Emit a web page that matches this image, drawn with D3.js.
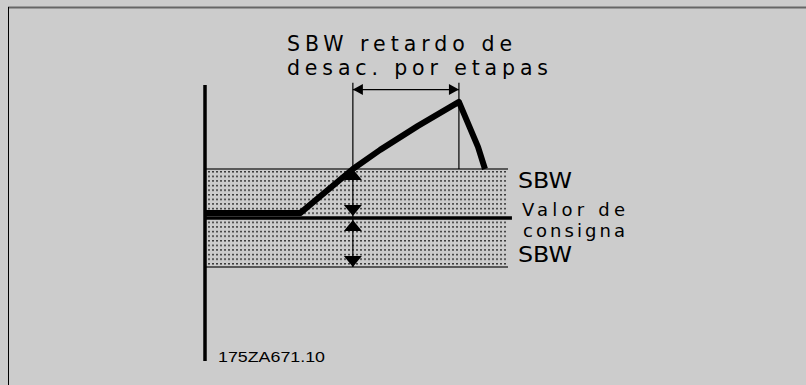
<!DOCTYPE html>
<html>
<head>
<meta charset="utf-8">
<script src="https://cdn.jsdelivr.net/npm/d3@7"></script>
<style>
  html, body { margin: 0; padding: 0; background: #cccccc; }
  svg { display: block; }
</style>
</head>
<body>
<div id="chart"></div>
<script>
// Time runs 0..100 across the band, level is in SBW units (setpoint = 0, band = +/-1)
const curveTimes  = [0, 31.4, 48.8, 57.8, 70.3, 83.8, 90.1, 92.4];
const curveLevels = [0.1, 0.1, 1.0, 1.39, 1.88, 2.37, 1.45, 1.0];

const delayTimes = [48.8, 83.8];        // start / end of the step-down delay
const bandLevels = [1, 0, -1];          // SBW top, setpoint, SBW bottom
const markerLevels = [1, 0, 0, -1];     // arrow tips on the delay line
const markerDirs   = ["up", "down", "up", "down"];

const titleLines  = ["SBW retardo de", "desac. por etapas"];
const rightLabels = ["SBW", "Valor de", "consigna", "SBW"];
const codeLabel   = "175ZA671.10";

const viewW = 806, viewH = 385;

const svg = d3.select("#chart")
    .append("svg")
    .attr("width", viewW)
    .attr("height", viewH);

svg.append("rect")
    .attr("width", viewW)
    .attr("height", viewH)
    .attr("fill", "#cccccc");

// frame: grey top edge, black left edge
svg.append("line")
    .attr("x1", 8).attr("x2", viewW)
    .attr("y1", 7.5).attr("y2", 7.5)
    .attr("stroke", "#666").attr("stroke-width", 2);
svg.append("line")
    .attr("x1", 8.5).attr("x2", 8.5)
    .attr("y1", 7).attr("y2", viewH)
    .attr("stroke", "#000").attr("stroke-width", 1);

// Scales
const x = d3.scaleLinear().domain([0, 100]).range([205, 508]);
const y = d3.scaleLinear().domain([-1, 1]).range([267, 169]);

// dotted fill pattern
const defs = svg.append("defs");
const pat = defs.append("pattern")
    .attr("id", "dots")
    .attr("patternUnits", "userSpaceOnUse")
    .attr("width", 4)
    .attr("height", 4.6)
    .attr("x", 0).attr("y", 171);
pat.append("rect")
    .attr("width", 2).attr("height", 1.5)
    .attr("fill", "#3a3a3a");

// SBW band
svg.append("rect")
    .attr("x", x(0))
    .attr("y", y(1))
    .attr("width", x(100) - x(0))
    .attr("height", y(-1) - y(1))
    .attr("fill", "url(#dots)");

// band edges
svg.selectAll("line.band")
    .data(bandLevels.filter(d => d !== 0))
    .join("line")
    .attr("class", "band")
    .attr("x1", x(0)).attr("x2", x(100))
    .attr("y1", d => y(d)).attr("y2", d => y(d))
    .attr("stroke", "#333")
    .attr("stroke-width", 1.5);

// setpoint line
svg.append("line")
    .attr("x1", x(0)).attr("x2", x(101.3))
    .attr("y1", y(0)).attr("y2", y(0))
    .attr("stroke", "#000")
    .attr("stroke-width", 3.5);

// delay guide lines
svg.append("line")
    .attr("x1", x(delayTimes[0])).attr("x2", x(delayTimes[0]))
    .attr("y1", y(2.76)).attr("y2", y(-1))
    .attr("stroke", "#000").attr("stroke-width", 1.2);
svg.append("line")
    .attr("x1", x(delayTimes[1])).attr("x2", x(delayTimes[1]))
    .attr("y1", y(2.76)).attr("y2", y(1))
    .attr("stroke", "#000").attr("stroke-width", 1.2);

// double arrow between the guides
const arrowY = y(2.62);
svg.append("line")
    .attr("x1", x(delayTimes[0])).attr("x2", x(delayTimes[1]))
    .attr("y1", arrowY).attr("y2", arrowY)
    .attr("stroke", "#000").attr("stroke-width", 1.2);
const headL = 10, headH = 5.5;
svg.selectAll("path.head")
    .data(delayTimes)
    .join("path")
    .attr("class", "head")
    .attr("d", (d, i) => {
        const px = x(d), s = i === 0 ? 1 : -1;
        return `M${px},${arrowY} L${px + s * headL},${arrowY - headH} L${px + s * headL},${arrowY + headH} Z`;
    })
    .attr("fill", "#000");

// triangles on the delay line
const triW = 9, triH = 11;
svg.selectAll("path.tri")
    .data(markerLevels.map((d, i) => ({ level: d, dir: markerDirs[i] })))
    .join("path")
    .attr("class", "tri")
    .attr("d", d => {
        const cx = x(delayTimes[0]);
        const off = d.level === 0 ? 2 : 0;
        const tip = d.dir === "up" ? y(d.level) + off : y(d.level) - off;
        const base = d.dir === "up" ? tip + triH : tip - triH;
        return `M${cx},${tip} L${cx - triW},${base} L${cx + triW},${base} Z`;
    })
    .attr("fill", "#000");

// vertical axis
svg.append("line")
    .attr("x1", x(0)).attr("x2", x(0))
    .attr("y1", 85).attr("y2", 361)
    .attr("stroke", "#000").attr("stroke-width", 3.5);

// process curve
const line = d3.line()
    .x(d => x(d[0]))
    .y(d => y(d[1]));
svg.append("path")
    .datum(curveTimes.map((t, i) => [t, curveLevels[i]]))
    .attr("d", line)
    .attr("fill", "none")
    .attr("stroke", "#000")
    .attr("stroke-width", 6)
    .attr("stroke-linejoin", "round");

// texts
const font = "'DejaVu Sans', sans-serif";
const titleBase = [51, 75], titleLen = [225, 261];
svg.selectAll("text.title")
    .data(titleLines)
    .join("text")
    .attr("class", "title")
    .attr("x", 287)
    .attr("y", (d, i) => titleBase[i])
    .attr("textLength", (d, i) => titleLen[i])
    .attr("lengthAdjust", "spacing")
    .style("font-family", font)
    .style("font-size", "20.5px")
    .text(d => d);

const rlX = [518, 522, 523, 518], rlY = [188, 216, 237, 262];
const rlLen = [54, 103, 102, 54], rlSize = [21, 18, 18, 21];
const rlAdjust = ["spacingAndGlyphs", "spacing", "spacing", "spacingAndGlyphs"];
svg.selectAll("text.rl")
    .data(rightLabels)
    .join("text")
    .attr("class", "rl")
    .attr("x", (d, i) => rlX[i])
    .attr("y", (d, i) => rlY[i])
    .attr("textLength", (d, i) => rlLen[i])
    .attr("lengthAdjust", (d, i) => rlAdjust[i])
    .style("font-family", font)
    .style("font-size", (d, i) => rlSize[i] + "px")
    .text(d => d);

svg.append("text")
    .attr("x", 218)
    .attr("y", 362)
    .attr("textLength", 107)
    .attr("lengthAdjust", "spacingAndGlyphs")
    .style("font-family", "'Liberation Sans Narrow', 'Liberation Sans', sans-serif")
    .style("font-size", "15px")
    .text(codeLabel);
</script>
</body>
</html>
